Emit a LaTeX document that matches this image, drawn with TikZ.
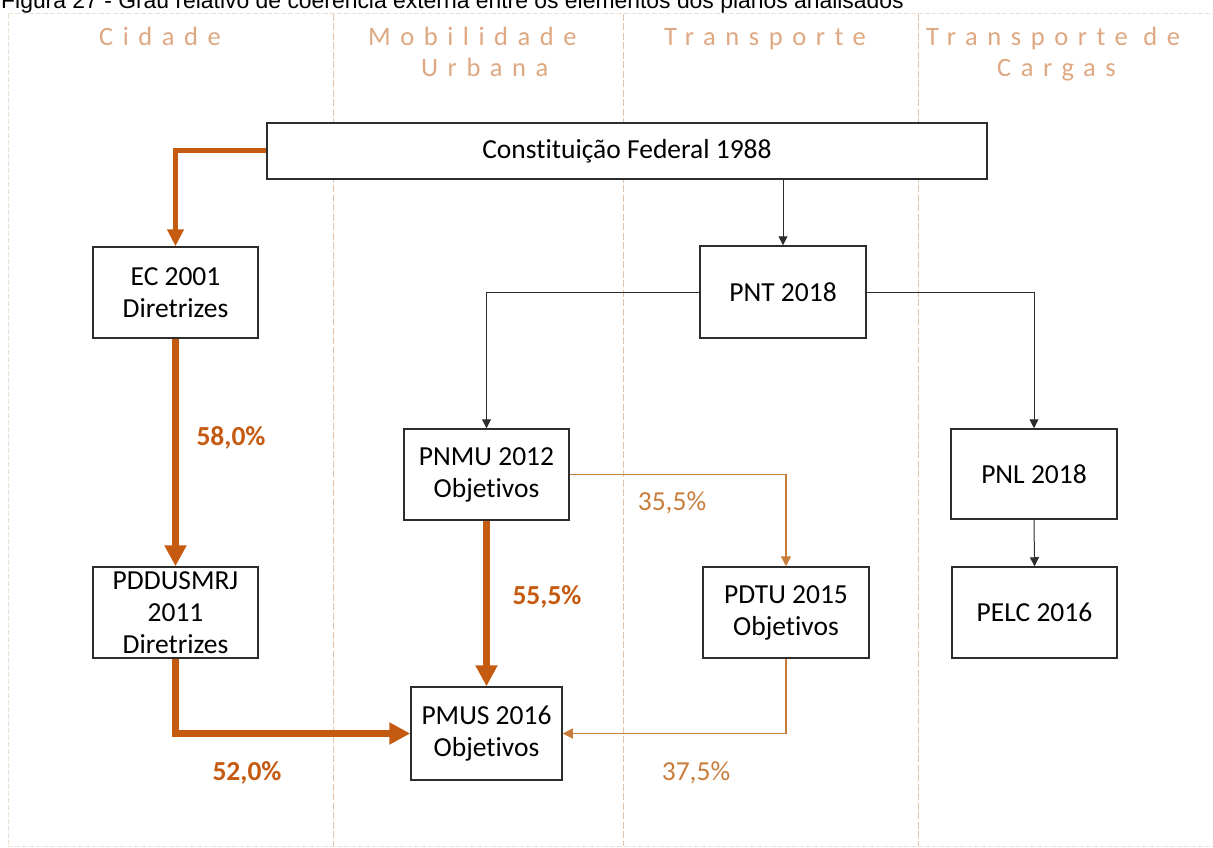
\documentclass[tikz,border=0pt]{standalone}
\usepackage{fontspec}
\setmainfont[RawFeature={-liga;-clig}]{Carlito}
\newfontfamily\titlefont{Liberation Sans}
\newfontfamily\headfont[LetterSpace=36,RawFeature={-liga;-clig}]{Carlito}
\usetikzlibrary{arrows.meta}
\definecolor{accent}{RGB}{197,90,17}
\definecolor{accentlight}{RGB}{200,125,60}
\definecolor{headcol}{RGB}{222,168,130}
\definecolor{guide}{RGB}{226,196,168}
\definecolor{framecol}{RGB}{236,224,210}
\definecolor{boxline}{RGB}{45,45,45}

\begin{document}
\begin{tikzpicture}[x=1pt,y=-1pt,
  plan/.style 2 args={draw=boxline, line width=1.5pt, fill=white, align=center,
    inner sep=0pt, font=\fontsize{27.5}{32}\selectfont,
    minimum width=#1, minimum height=#2},
  head/.style={anchor=base west, inner sep=0pt, text=headcol,
    font=\headfont\fontsize{26.5}{30}\selectfont},
  thinarrow/.style={draw=boxline, line width=1pt, -{Triangle[length=9pt,width=9pt]}},
  thinaccent/.style={draw=accentlight, line width=1.5pt, -{Triangle[length=10pt,width=10pt]}},
  thickaccent/.style={draw=accent, line width=7pt, -{Triangle[length=21pt,width=21pt]}},
  pctbold/.style={inner sep=0pt, text=accent, font=\fontsize{27.5}{32}\selectfont\bfseries},
  pctlight/.style={inner sep=0pt, text=accentlight, font=\fontsize{27.5}{32}\selectfont},
  guideline/.style={draw=guide, line width=1pt, dash pattern=on 7pt off 2.5pt},
  framedash/.style={draw=framecol, line width=1pt, dash pattern=on 5pt off 2pt}]

\useasboundingbox (0,0) rectangle (1213,848);
\clip (0,0) rectangle (1213,848);
\fill[white] (0,0) rectangle (1213,848);

% caption line along the top edge
\node[anchor=base west, inner sep=0pt, font=\titlefont\fontsize{22.9}{26}\selectfont] (title) at (1,9)
  {Figura 27 - Grau relativo de coerência externa entre os elementos dos planos analisados};

% outer frame and column separators
\draw[framedash] (8,14) -- (1213,14);
\draw[framedash] (8,14) -- (8,846);
\draw[framedash] (8,846) -- (1213,846);
\foreach \gx in {333,623,918} \draw[guideline] (\gx,14) -- (\gx,846);

% column headings
\node[head] (hcid) at (99,46) {Cidade};
\node[head] (hmob1) at (368,46) {Mobilidade};
\node[head] (hmob2) at (421,77) {Urbana};
\node[head] (htra) at (664,46) {Transporte};
\node[head] (hcar1) at (926,46) {Transporte de};
\node[head] (hcar2) at (997,77) {Cargas};

% plans
\node[plan={720}{56}] (cf) at (627,151) {Constituição Federal 1988};
\node[plan={165}{91}] (ec) at (175.5,292.5) {EC 2001\\Diretrizes};
\node[plan={166}{92}] (pnt) at (783,292) {PNT 2018};
\node[plan={165}{91}] (pnmu) at (486.5,474.5) {PNMU 2012\\Objetivos};
\node[plan={166}{90}] (pnl) at (1034,474) {PNL 2018};
\node[plan={165}{91}] (pdd) at (175.5,612.5) {PDDUSMRJ\\2011\\Diretrizes};
\node[plan={166}{91}] (pdtu) at (786,612.5) {PDTU 2015\\Objetivos};
\node[plan={165}{91}] (pelc) at (1034.5,612.5) {PELC 2016};
\node[plan={151}{93}] (pmus) at (486.5,733.5) {PMUS 2016\\Objetivos};

% links between plans
\draw[thickaccent, line width=5pt, -{Triangle[length=17pt,width=16pt]}] (cf.west) -| (ec.north);
\draw[thinarrow] (cf.south -| pnt.north) -- (pnt.north);
\draw[thinarrow] (pnt.west) -| (pnmu.north);
\draw[thinarrow] (pnt.east) -| (pnl.north);
\draw[thinarrow] (pnl.south) -- (pelc.north);
\draw[thickaccent] (ec.south) -- (pdd.north);
\draw[thickaccent] (pnmu.south) -- (pmus.north);
\draw[thickaccent] (pdd.south) |- (pmus.west);
\draw[thinaccent] (pnmu.east) -| (pdtu.north);
\draw[thinaccent] (pdtu.south) |- (pmus.east);

% coherence percentages
\node[pctbold] (p58) at (231,438) {58,0\%};
\node[pctbold] (p555) at (547,597) {55,5\%};
\node[pctbold] (p52) at (247,773) {52,0\%};
\node[pctlight] (p355) at (672,503) {35,5\%};
\node[pctlight] (p375) at (696,773) {37,5\%};
\end{tikzpicture}
\end{document}
